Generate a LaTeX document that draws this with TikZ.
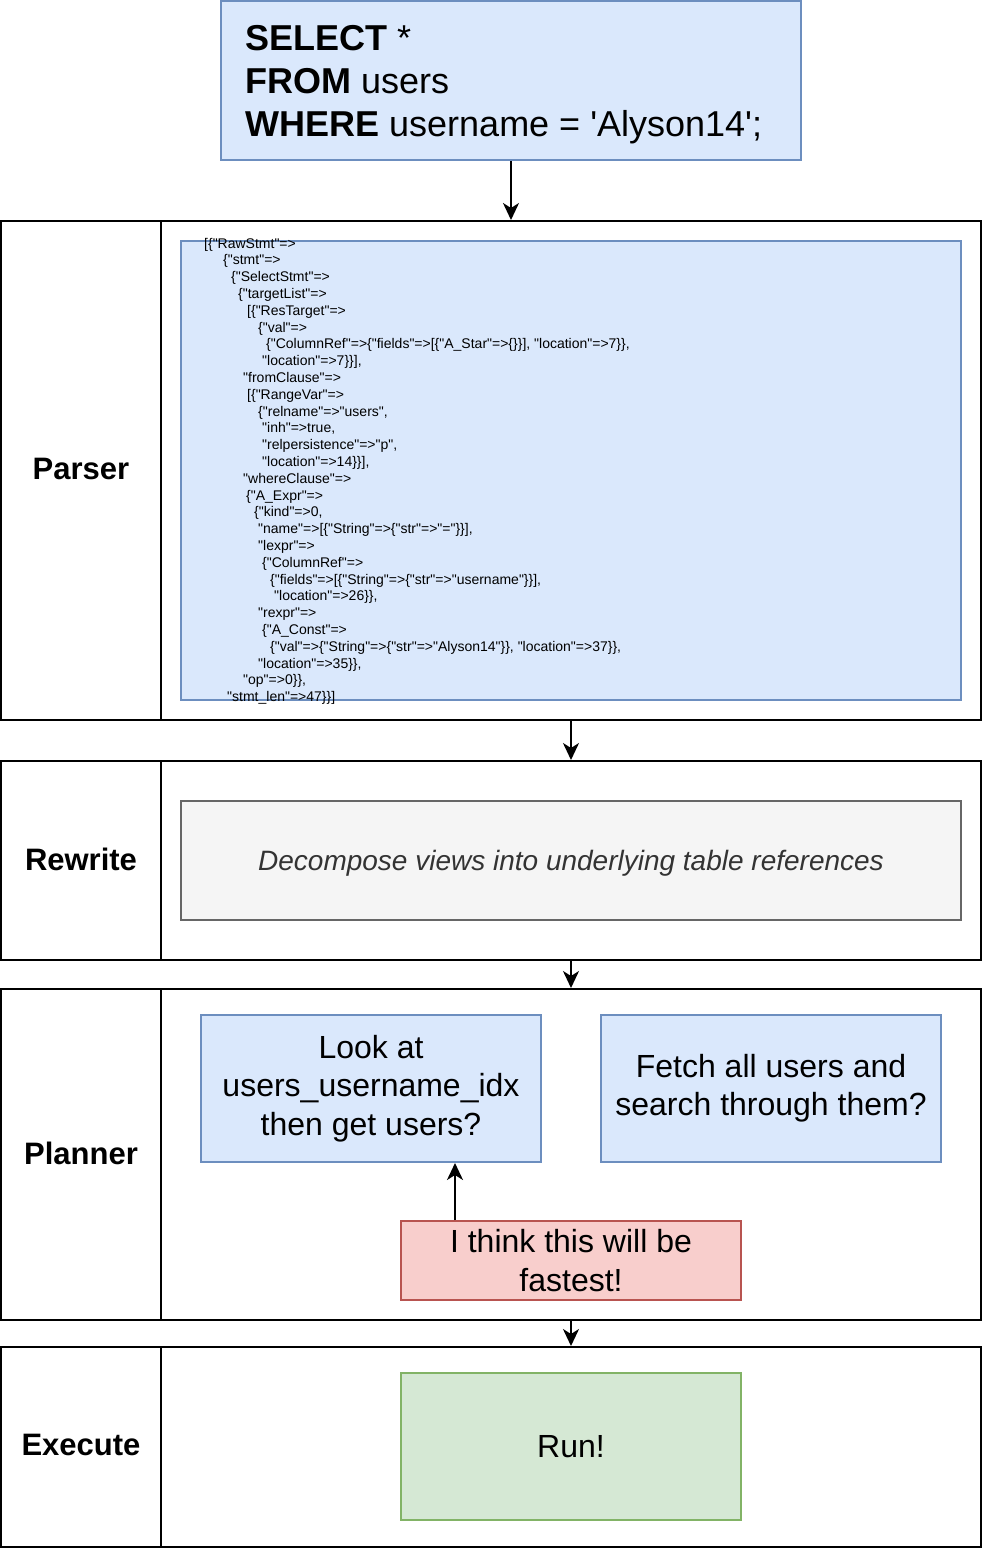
\documentclass[tikz,border=0pt]{standalone}
\usepackage{fontspec}
\setmainfont{Liberation Sans}
\usetikzlibrary{arrows.meta}
\definecolor{bfill}{HTML}{DAE8FC}
\definecolor{bline}{HTML}{6C8EBF}
\definecolor{gfill}{HTML}{F5F5F5}
\definecolor{gline}{HTML}{666666}
\definecolor{gtext}{HTML}{333333}
\definecolor{rfill}{HTML}{F8CECC}
\definecolor{rline}{HTML}{B85450}
\definecolor{vfill}{HTML}{D5E8D4}
\definecolor{vline}{HTML}{82B366}
\newcommand{\dq}{\textquotedbl}
\tikzset{
  lane/.style={draw=black, line width=2pt, inner sep=0pt},
  lanelabel/.style={font=\fontsize{31}{37}\selectfont\bfseries},
  bluebox/.style={draw=bline, fill=bfill, line width=2pt, inner sep=0pt},
  graybox/.style={draw=gline, fill=gfill, line width=2pt, inner sep=0pt, text=gtext,
    font=\fontsize{28}{33.6}\selectfont\itshape},
  redbox/.style={draw=rline, fill=rfill, line width=2pt, inner sep=0pt},
  greenbox/.style={draw=vline, fill=vfill, line width=2pt, inner sep=0pt},
  bigtext/.style={font=\fontsize{32}{38.4}\selectfont, align=center},
  arr/.style={draw=black, line width=2pt, -{Stealth[length=17pt, width=16pt, inset=5pt]}},
}
\begin{document}
\begin{tikzpicture}[x=1pt, y=-1pt]
\useasboundingbox (0,0) rectangle (982,1548);
\fill[white] (0,0) rectangle (982,1548);

% SQL box
\node[bluebox, minimum width=580pt, minimum height=159pt] (sql) at (511,80.5) {};
\node[anchor=north west, inner sep=0pt, align=left, font=\fontsize{36}{43.2}\selectfont] (sqltext) at (245,24.8)
  {\textbf{SELECT} *\\\textbf{FROM} users\\\textbf{WHERE} username = \textquotesingle Alyson14\textquotesingle;};

% Parser lane
\node[lane, minimum width=160pt, minimum height=499pt] (parserhead) at (81,470.5) {};
\node[lane, minimum width=820pt, minimum height=499pt] (parserbody) at (571,470.5) {};
\node[lanelabel] (parserlabel) at (81,469) {Parser};
\node[bluebox, minimum width=780pt, minimum height=459pt] (json) at (571,470.5) {};
\node[anchor=north west, inner sep=0pt, align=left, font=\fontsize{14}{16.8}\selectfont] (jsontext) at (204,237.8) {%
\hspace*{0pt}[\{\dq RawStmt\dq=>\\
\hspace*{19pt}\{\dq stmt\dq=>\\
\hspace*{27pt}\{\dq SelectStmt\dq=>\\
\hspace*{34pt}\{\dq targetList\dq=>\\
\hspace*{43pt}[\{\dq ResTarget\dq=>\\
\hspace*{54pt}\{\dq val\dq=>\\
\hspace*{62pt}\{\dq ColumnRef\dq=>\{\dq fields\dq=>[\{\dq A\_Star\dq=>\{\}\}], \dq location\dq=>7\}\},\\
\hspace*{58pt}\dq location\dq=>7\}\}],\\
\hspace*{39pt}\dq fromClause\dq=>\\
\hspace*{43pt}[\{\dq RangeVar\dq=>\\
\hspace*{54pt}\{\dq relname\dq=>\dq users\dq,\\
\hspace*{58pt}\dq inh\dq=>true,\\
\hspace*{58pt}\dq relpersistence\dq=>\dq p\dq,\\
\hspace*{58pt}\dq location\dq=>14\}\}],\\
\hspace*{39pt}\dq whereClause\dq=>\\
\hspace*{42pt}\{\dq A\_Expr\dq=>\\
\hspace*{50pt}\{\dq kind\dq=>0,\\
\hspace*{54pt}\dq name\dq=>[\{\dq String\dq=>\{\dq str\dq=>\dq=\dq\}\}],\\
\hspace*{54pt}\dq lexpr\dq=>\\
\hspace*{58pt}\{\dq ColumnRef\dq=>\\
\hspace*{66pt}\{\dq fields\dq=>[\{\dq String\dq=>\{\dq str\dq=>\dq username\dq\}\}],\\
\hspace*{70pt}\dq location\dq=>26\}\},\\
\hspace*{54pt}\dq rexpr\dq=>\\
\hspace*{58pt}\{\dq A\_Const\dq=>\\
\hspace*{66pt}\{\dq val\dq=>\{\dq String\dq=>\{\dq str\dq=>\dq Alyson14\dq\}\}, \dq location\dq=>37\}\},\\
\hspace*{54pt}\dq location\dq=>35\}\},\\
\hspace*{39pt}\dq op\dq=>0\}\},\\
\hspace*{23pt}\dq stmt\_len\dq=>47\}\}]};

% Rewrite lane
\node[lane, minimum width=160pt, minimum height=199pt] (rewritehead) at (81,860.5) {};
\node[lane, minimum width=820pt, minimum height=199pt] (rewritebody) at (571,860.5) {};
\node[lanelabel] (rewritelabel) at (81,859) {Rewrite};
\node[graybox, minimum width=780pt, minimum height=119pt] (decomp) at (571,860.5) {};
\node[text=gtext, font=\fontsize{28}{33.6}\selectfont\itshape] (decomptext) at (571,863)
  {Decompose views into underlying table references};

% Planner lane
\node[lane, minimum width=160pt, minimum height=331pt] (plannerhead) at (81,1154.5) {};
\node[lane, minimum width=820pt, minimum height=331pt] (plannerbody) at (571,1154.5) {};
\node[lanelabel] (plannerlabel) at (81,1153) {Planner};
\node[bluebox, bigtext, minimum width=340pt, minimum height=147pt] (plan1) at (371,1088.5)
  {Look at\\users\_username\_idx\\then get users?};
\node[bluebox, bigtext, minimum width=340pt, minimum height=147pt] (plan2) at (771,1088.5)
  {Fetch all users and\\search through them?};
\node[redbox, bigtext, minimum width=340pt, minimum height=79pt] (fast) at (571,1260.5)
  {I think this will be\\fastest!};

% Execute lane
\node[lane, minimum width=160pt, minimum height=200pt] (executehead) at (81,1447) {};
\node[lane, minimum width=820pt, minimum height=200pt] (executebody) at (571,1447) {};
\node[lanelabel] (executelabel) at (81,1445) {Execute};
\node[greenbox, bigtext, minimum width=340pt, minimum height=147pt] (run) at (571,1446.5) {Run!};

% Connectors
\draw[arr] (sql.south) -- (sql.south |- parserbody.north);
\draw[arr] (parserbody.south) -- (rewritebody.north);
\draw[arr] (rewritebody.south) -- (plannerbody.north);
\draw[arr] (plannerbody.south) -- (executebody.north);
\coordinate (fasttap) at ([xshift=55pt]fast.north west);
\draw[arr] (fasttap) -- (fasttap |- plan1.south);
\end{tikzpicture}
\end{document}
